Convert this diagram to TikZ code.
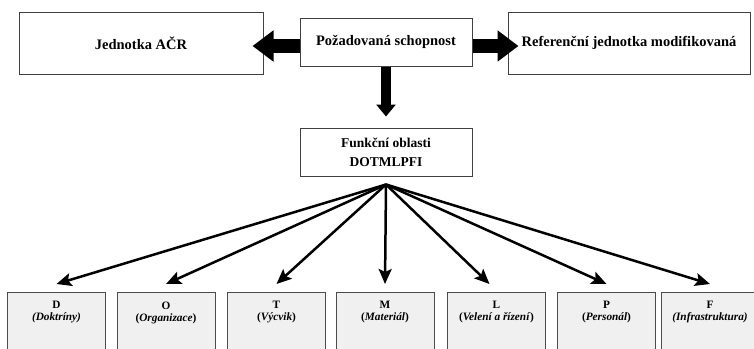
\documentclass[tikz,border=0pt]{standalone}
\usepackage{fontspec}
\setmainfont{Liberation Serif}
\newfontfamily\timesfont{Liberation Serif}
\usetikzlibrary{arrows.meta}

\begin{document}
\begin{tikzpicture}[
    x = 1pt, y = -1pt,
    box/.style = {rectangle,
      draw = black!75,
      line width = 1pt,
      align = center,
      font = \timesfont\fontsize{14.5}{19}\selectfont\bfseries},
    area/.style = {rectangle,
      draw = black!70,
      fill = black!6,
      line width = 1pt,
      anchor = north,
      minimum width = 98pt,
      minimum height = 70pt},
    areatext/.style = {anchor = north,
      yshift = -6pt,
      align = center,
      font = \timesfont\fontsize{11.3}{12}\selectfont\bfseries},
    block/.style = {line width = 14pt,
      -{Triangle[length = 21pt, width = 30pt]}},
    fan/.style = {line width = 2.5pt,
      -{Stealth[length = 15pt, width = 13pt, inset = 3pt]}}
    ]
    \useasboundingbox (0, 0) rectangle (754, 348);
    \clip (0, 0) rectangle (754, 348);

    \node at (141, 43) [box, minimum width = 244pt, minimum height = 62pt, name = unit] {Jednotka AČR};
    \node at (386, 42) [box, minimum width = 172pt, minimum height = 48pt, name = req] {Požadovaná schopnost};
    \node at (629, 43) [box, minimum width = 242pt, minimum height = 62pt, name = ref] {Referenční jednotka modifikovaná};
    \node at (386, 152) [box, font = \timesfont\fontsize{13.5}{19}\selectfont\bfseries,
      minimum width = 172pt, minimum height = 48pt, name = func] {Funkční oblasti\\DOTMLPFI};
    \coordinate (hub) at ([yshift = -8pt]func.south);

    \node at (56.5, 292) [area, name = doktriny, label = {[areatext]north:{D\\\textit{(Doktríny)}}}] {};
    \node at (166, 292) [area, name = organizace, label = {[areatext]north:{O\\(\textit{Organizace})}}] {};
    \node at (276.5, 292) [area, name = vycvik, label = {[areatext]north:{T\\(\textit{Výcvik})}}] {};
    \node at (385, 292) [area, name = material, label = {[areatext]north:{M\\(\textit{Materiál})}}] {};
    \node at (496.5, 292) [area, name = veleni, label = {[areatext]north:{L\\(\textit{Velení a řízení})}}] {};
    \node at (606.5, 292) [area, name = personal, label = {[areatext]north:{P\\(\textit{Personál})}}] {};
    \node at (710, 292) [area, name = infra, label = {[areatext]north:{F\\\textit{(Infrastruktura)}}}] {};

    \draw [block, shorten >= -11pt] ([yshift = -4pt]req.west) -- ([yshift = -4pt]req.west -| unit.east);
    \draw [block, shorten >= -11pt] ([yshift = -4pt]req.east) -- ([yshift = -4pt]req.east -| ref.west);
    \draw [block, line width = 10pt, -{Triangle[length = 12pt, width = 19pt]}, shorten >= 11pt] (req.south) -- (func.north);

    \draw [fan] (hub) -- ([yshift = 8pt]doktriny.north);
    \draw [fan] (hub) -- ([yshift = 8pt]organizace.north);
    \draw [fan] (hub) -- ([yshift = 8pt]vycvik.north);
    \draw [fan] (hub) -- ([yshift = 8pt]material.north);
    \draw [fan] (hub) -- ([yshift = 8pt, xshift = -7pt]veleni.north);
    \draw [fan] (hub) -- ([yshift = 8pt]personal.north);
    \draw [fan] (hub) -- ([yshift = 8pt]infra.north);

  \end{tikzpicture}
\end{document}
